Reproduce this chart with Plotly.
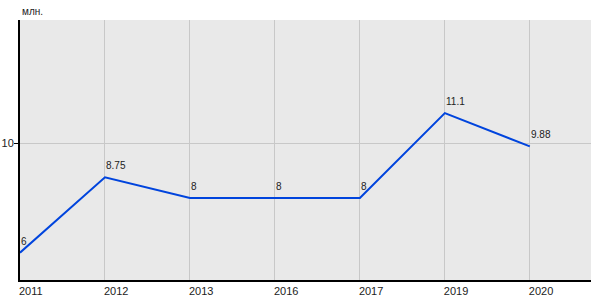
import plotly.graph_objects as go

years = ["2011", "2012", "2013", "2016", "2017", "2019", "2020"]
values = [6, 8.75, 8, 8, 8, 11.1, 9.88]
labels = ["6", "8.75", "8", "8", "8", "11.1", "9.88"]

xs = list(range(len(years)))

fig = go.Figure()
fig.add_trace(go.Scatter(
    x=xs, y=values,
    mode="lines",
    line=dict(color="#0044dd", width=2),
    hoverinfo="skip",
))

annotations = [dict(
    text=lab, x=x, y=v, xref="x", yref="y",
    xanchor="left", yanchor="bottom", xshift=-1, yshift=4, showarrow=False,
    font=dict(family="Liberation Sans, Arial", size=10, color="#222222"),
) for x, v, lab in zip(xs, values, labels)]

annotations.append(dict(
    text="млн.", x=0, xref="paper", y=1, yref="paper",
    xanchor="left", yanchor="bottom", yshift=1, showarrow=False,
    font=dict(family="Liberation Sans, Arial", size=10, color="#222222"),
))

fig.update_layout(
    width=600, height=300,
    margin=dict(l=20, r=9, t=20, b=20, autoexpand=False),
    plot_bgcolor="#e9e9e9",
    paper_bgcolor="white",
    showlegend=False,
    font=dict(family="Liberation Sans, Arial", size=11, color="#222222"),
    xaxis=dict(
        range=[0, 6.72],
        tickmode="array",
        tickvals=xs,
        ticktext=years,
        ticklabelposition="outside right",
        ticklabelshift=-2,
        showgrid=True, gridcolor="#c8c8c8", gridwidth=1,
        showline=True, linecolor="black", linewidth=2,
        ticks="", zeroline=False, automargin=False,
        tickfont=dict(size=11, color="#222222"),
    ),
    yaxis=dict(
        range=[5, 14.5],
        tickmode="array",
        tickvals=[10],
        ticktext=["10"],
        showgrid=True, gridcolor="#c8c8c8", gridwidth=1,
        showline=True, linecolor="black", linewidth=2,
        ticks="outside", ticklen=4, tickcolor="black",
        ticklabelstandoff=-2,
        zeroline=False, automargin=False,
        tickfont=dict(size=11, color="#222222"),
    ),
    annotations=annotations,
)

fig.write_html("out.html")
